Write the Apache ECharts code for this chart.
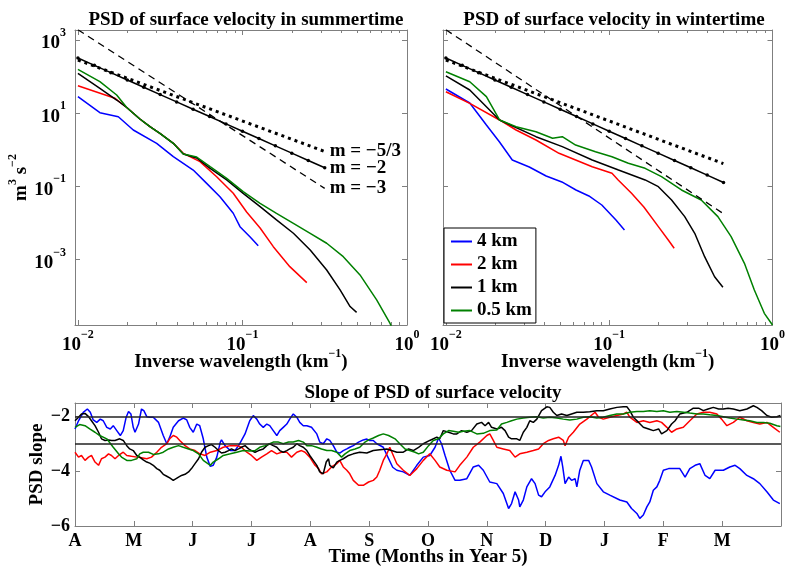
<!DOCTYPE html>
<html><head><meta charset="utf-8">
<script src="https://cdn.jsdelivr.net/npm/echarts@6/dist/echarts.min.js"></script>
<style>html,body{margin:0;padding:0;background:#fff}#c{width:788px;height:572px}</style>
</head><body><div id="c"></div>
<script>
// ---------- tick / range data ----------
const xMajor = [0.01, 0.1, 1];
const xMinor = [0.02,0.03,0.04,0.05,0.06,0.07,0.08,0.09,0.2,0.3,0.4,0.5,0.6,0.7,0.8,0.9];
const yMajor = [0.001, 0.1, 10, 1000];
const kRange = [0.0096, 1];
const pRange = [1.63e-5, 1875];
const months = ['A','M','J','J','A','S','O','N','D','J','F','M'];
const slopeTicks = [-6, -4, -2];
const slopeRange = [-6, -1.5];
const refLevels = [-2, -3];
const seriesNames = ['4 km', '2 km', '1 km', '0.5 km'];

// ---------- summer PSD [k (1/km), PSD] ----------
const sum4km = [[0.01,28.2],[0.0136,10.3],[0.0176,8.0],[0.0217,3.47],[0.0301,1.50],[0.038,0.647],[0.0502,0.28],[0.0606,0.121],[0.073,0.0523],[0.0879,0.0184],[0.0966,0.00793],[0.111,0.0042],[0.1247,0.0024]];
const sum2km = [[0.01,56.4],[0.0168,25.5],[0.0198,14.3],[0.0238,6.93],[0.0274,4.28],[0.0315,2.82],[0.038,1.5],[0.0437,0.8],[0.0552,0.473],[0.0697,0.184],[0.0879,0.0647],[0.106,0.02],[0.128,0.0073],[0.154,0.00225],[0.194,0.00064],[0.246,0.000234]];
const sum1km = [[0.01,123],[0.0136,47.9],[0.0172,22.9],[0.0198,14.3],[0.0238,6.93],[0.0274,4.28],[0.0315,2.82],[0.038,1.5],[0.0437,0.767],[0.0527,0.597],[0.0636,0.312],[0.0802,0.15],[0.101,0.0647],[0.128,0.0279],[0.161,0.0121],[0.204,0.00523],[0.258,0.00183],[0.325,0.00052],[0.392,0.000148],[0.451,5.2e-5],[0.494,3.6e-5]];
const sum05km = [[0.01,158],[0.0136,72.5],[0.0172,31.4],[0.0198,14.3],[0.0238,6.93],[0.0274,4.28],[0.0315,2.82],[0.038,1.5],[0.0437,0.767],[0.0527,0.635],[0.0636,0.345],[0.0802,0.166],[0.101,0.0716],[0.128,0.0345],[0.161,0.0184],[0.204,0.0098],[0.258,0.00523],[0.325,0.00279],[0.41,0.0012],[0.518,0.00038],[0.654,7.9e-5],[0.789,1.8e-5],[0.845,8.7e-6]];

// ---------- winter PSD ----------
const win4km = [[0.01,45.8],[0.014,19],[0.0177,4.75],[0.0213,1.63],[0.0255,0.526],[0.0324,0.339],[0.0411,0.192],[0.0513,0.132],[0.0626,0.0797],[0.0751,0.0547],[0.0901,0.031],[0.11,0.0121],[0.124,0.00644]];
const win2km = [[0.01,38.6],[0.014,18.6],[0.0213,6.52],[0.0269,3.47],[0.0356,1.85],[0.0493,0.802],[0.0623,0.526],[0.0787,0.345],[0.104,0.228],[0.1135,0.15],[0.137,0.0647],[0.163,0.0273],[0.2,0.00793],[0.23,0.00343],[0.25,0.00204]];
const win1km = [[0.01,104],[0.014,43],[0.0213,6.52],[0.0356,2.28],[0.0516,1.22],[0.0787,0.526],[0.114,0.281],[0.166,0.15],[0.2,0.0982],[0.241,0.0425],[0.29,0.0149],[0.334,0.00523],[0.384,0.0012],[0.442,0.00034],[0.497,0.000175]];
const win05km = [[0.01,136],[0.014,72.4],[0.0177,28.3],[0.0213,6.52],[0.0269,4.28],[0.0356,3.12],[0.045,2.06],[0.0516,2.28],[0.0623,1.35],[0.0824,0.887],[0.104,0.647],[0.131,0.428],[0.166,0.312],[0.209,0.184],[0.277,0.0797],[0.366,0.0425],[0.463,0.0149],[0.558,0.00423],[0.673,0.00079],[0.774,0.000148],[0.891,3.4e-5],[1.0,1.63e-5]];

// ---------- reference slopes ----------
const refM2Left = [[0.01,322],[0.01259,203],[0.01585,128],[0.01995,80.9],[0.02512,51.0],[0.03162,32.2],[0.03981,20.3],[0.05012,12.8],[0.0631,8.09],[0.07943,5.10],[0.1,3.22],[0.1259,2.03],[0.1585,1.28],[0.1995,0.809],[0.2512,0.510],[0.3162,0.322]];
const refM2Right = [[0.01,322],[0.01259,203],[0.01585,128],[0.01995,80.9],[0.02512,51.0],[0.03162,32.2],[0.03981,20.3],[0.05012,12.8],[0.0631,8.09],[0.07943,5.10],[0.1,3.22],[0.1259,2.03],[0.1585,1.28],[0.1995,0.809],[0.2512,0.510],[0.3162,0.322],[0.3981,0.203],[0.5012,0.128]];
const refM53Left = [[0.01,284],[0.316,0.9]];
const refM53Right = [[0.01,284],[0.5,0.42]];
const refM3Left = [[0.01,1900],[0.316,0.088]];
const refM3Right = [[0.01,1900],[0.5,0.018]];

// ---------- PSD slope time series [month, slope] ----------
const slope4km = [[0,-2.45],[0.06,-2.15],[0.14,-1.84],[0.21,-1.72],[0.26,-1.84],[0.31,-2.12],[0.37,-2.21],[0.43,-2.09],[0.48,-2.15],[0.54,-2.39],[0.6,-2.45],[0.65,-2.33],[0.71,-2.51],[0.77,-2.69],[0.82,-2.51],[0.87,-2.02],[0.91,-1.81],[0.95,-1.9],[0.99,-2.39],[1.02,-2.57],[1.08,-2.27],[1.13,-1.72],[1.17,-1.78],[1.22,-2.0],[1.27,-2.02],[1.33,-2.02],[1.42,-2.21],[1.5,-2.69],[1.56,-2.99],[1.61,-2.75],[1.67,-2.39],[1.76,-2.15],[1.84,-2.05],[1.9,-2.12],[1.95,-2.39],[2.01,-2.57],[2.07,-2.27],[2.12,-2.33],[2.18,-2.81],[2.24,-3.48],[2.3,-3.82],[2.35,-3.78],[2.41,-3.48],[2.47,-2.93],[2.49,-2.85],[2.55,-3.06],[2.64,-3.24],[2.72,-3.24],[2.8,-2.99],[2.89,-2.63],[2.97,-2.15],[3.03,-1.96],[3.09,-2.09],[3.14,-2.27],[3.2,-2.39],[3.26,-2.27],[3.31,-2.33],[3.37,-2.51],[3.43,-2.69],[3.48,-2.51],[3.54,-2.39],[3.6,-2.27],[3.65,-2.09],[3.71,-1.9],[3.77,-2.02],[3.82,-2.21],[3.88,-2.33],[3.94,-2.33],[4.02,-2.39],[4.11,-2.63],[4.16,-2.93],[4.22,-2.99],[4.28,-2.81],[4.33,-2.87],[4.39,-3.06],[4.45,-3.3],[4.5,-3.33],[4.56,-3.24],[4.62,-3.18],[4.67,-3.12],[4.73,-3.06],[4.82,-2.93],[4.9,-2.85],[4.96,-2.82],[5.01,-2.87],[5.07,-2.87],[5.13,-2.99],[5.24,-3.12],[5.3,-3.4],[5.4,-3.85],[5.47,-3.96],[5.58,-4.02],[5.69,-4.15],[5.81,-3.78],[5.92,-3.48],[6.03,-3.42],[6.12,-3.12],[6.18,-2.78],[6.23,-2.99],[6.29,-3.42],[6.37,-3.96],[6.46,-4.33],[6.54,-4.33],[6.66,-4.27],[6.77,-3.84],[6.86,-3.78],[6.94,-3.96],[7.05,-4.39],[7.17,-4.45],[7.28,-4.81],[7.37,-5.36],[7.42,-5.18],[7.48,-4.75],[7.54,-5.05],[7.56,-5.3],[7.62,-5.05],[7.68,-4.57],[7.76,-4.27],[7.82,-4.45],[7.88,-4.87],[7.93,-4.93],[7.99,-4.75],[8.07,-4.57],[8.16,-4.15],[8.22,-3.78],[8.26,-3.45],[8.29,-3.84],[8.33,-4.45],[8.39,-4.21],[8.44,-4.33],[8.5,-4.27],[8.53,-4.57],[8.56,-4.63],[8.58,-3.96],[8.64,-3.6],[8.73,-3.6],[8.78,-3.84],[8.87,-4.45],[8.98,-4.75],[9.09,-4.87],[9.26,-5.05],[9.38,-5.12],[9.46,-5.36],[9.55,-5.54],[9.6,-5.72],[9.66,-5.6],[9.72,-5.3],[9.77,-5.12],[9.83,-4.69],[9.89,-4.57],[9.94,-4.33],[10.0,-3.96],[10.09,-3.9],[10.17,-3.9],[10.28,-3.9],[10.37,-4.21],[10.45,-3.9],[10.54,-3.78],[10.62,-3.72],[10.71,-4.15],[10.79,-4.27],[10.88,-3.96],[11.02,-3.96],[11.13,-3.84],[11.22,-3.78],[11.3,-3.9],[11.42,-4.15],[11.53,-4.27],[11.64,-4.45],[11.76,-4.75],[11.87,-5.05],[11.98,-5.18]];
const slope2km = [[0,-3.3],[0.06,-3.48],[0.11,-3.42],[0.17,-3.6],[0.23,-3.48],[0.28,-3.42],[0.34,-3.66],[0.4,-3.78],[0.45,-3.54],[0.51,-3.48],[0.57,-3.36],[0.62,-3.42],[0.68,-3.54],[0.74,-3.42],[0.82,-3.3],[0.88,-3.42],[0.96,-3.45],[1.05,-3.48],[1.13,-3.5],[1.22,-3.54],[1.3,-3.48],[1.39,-3.3],[1.47,-3.12],[1.56,-2.99],[1.61,-2.81],[1.67,-2.69],[1.73,-2.75],[1.78,-2.87],[1.87,-3.06],[1.95,-3.18],[2.04,-3.24],[2.12,-3.36],[2.21,-3.42],[2.3,-3.3],[2.41,-3.24],[2.52,-3.12],[2.64,-3.06],[2.75,-3.06],[2.83,-3.12],[2.92,-3.3],[3.0,-3.42],[3.09,-3.6],[3.17,-3.48],[3.26,-3.36],[3.34,-3.24],[3.43,-3.36],[3.51,-3.3],[3.6,-3.3],[3.68,-3.48],[3.77,-3.3],[3.85,-3.24],[3.91,-3.3],[3.99,-3.48],[4.08,-3.78],[4.14,-3.9],[4.19,-4.09],[4.28,-4.02],[4.36,-3.84],[4.45,-3.72],[4.5,-3.6],[4.56,-3.84],[4.62,-3.96],[4.67,-4.09],[4.73,-4.33],[4.82,-4.51],[4.9,-4.51],[4.99,-4.39],[5.07,-4.33],[5.13,-4.21],[5.18,-3.96],[5.24,-3.6],[5.3,-3.36],[5.35,-3.12],[5.47,-3.72],[5.58,-3.96],[5.69,-4.15],[5.81,-3.9],[5.92,-3.6],[6.03,-3.36],[6.12,-3.6],[6.2,-3.84],[6.32,-3.96],[6.46,-4.02],[6.54,-3.78],[6.66,-3.48],[6.77,-3.12],[6.88,-2.93],[7.0,-2.69],[7.05,-2.63],[7.11,-2.87],[7.17,-3.12],[7.28,-3.18],[7.39,-3.24],[7.48,-3.48],[7.56,-3.36],[7.68,-3.3],[7.79,-3.24],[7.88,-3.18],[7.96,-2.99],[8.05,-2.87],[8.13,-2.81],[8.22,-2.75],[8.3,-2.87],[8.33,-3.06],[8.39,-2.75],[8.47,-2.57],[8.58,-2.27],[8.7,-2.09],[8.84,-1.84],[8.9,-2.02],[8.98,-2.09],[9.09,-2.02],[9.21,-1.96],[9.32,-1.9],[9.38,-1.84],[9.43,-2.02],[9.55,-2.21],[9.66,-2.15],[9.77,-2.21],[9.89,-2.15],[9.97,-2.21],[10.06,-2.39],[10.14,-2.57],[10.23,-2.45],[10.34,-2.39],[10.45,-2.15],[10.57,-1.9],[10.68,-1.84],[10.79,-1.84],[10.91,-1.9],[10.99,-2.09],[11.08,-2.33],[11.19,-2.21],[11.3,-2.02],[11.42,-2.15],[11.53,-2.21],[11.64,-2.27],[11.76,-2.21],[11.87,-2.39],[11.98,-2.57]];
const slope1km = [[0,-2.15],[0.06,-2.02],[0.11,-1.9],[0.17,-1.88],[0.23,-2.0],[0.28,-2.15],[0.34,-2.33],[0.4,-2.57],[0.45,-2.81],[0.51,-2.87],[0.57,-2.85],[0.62,-2.87],[0.68,-2.87],[0.76,-2.81],[0.82,-2.87],[0.88,-3.06],[0.93,-3.18],[0.99,-3.24],[1.05,-3.42],[1.1,-3.48],[1.16,-3.58],[1.22,-3.66],[1.27,-3.7],[1.33,-3.78],[1.39,-3.9],[1.44,-3.96],[1.5,-4.11],[1.56,-4.18],[1.61,-4.24],[1.67,-4.33],[1.7,-4.35],[1.76,-4.21],[1.81,-4.15],[1.87,-4.11],[1.93,-4.02],[1.98,-3.9],[2.04,-3.72],[2.1,-3.54],[2.15,-3.3],[2.21,-3.12],[2.27,-3.06],[2.32,-3.02],[2.38,-3.12],[2.44,-3.24],[2.49,-3.33],[2.55,-3.3],[2.61,-3.24],[2.66,-3.18],[2.72,-3.24],[2.78,-3.18],[2.83,-3.12],[2.89,-3.06],[2.95,-3.18],[3.0,-3.24],[3.06,-3.3],[3.12,-3.24],[3.2,-3.18],[3.26,-3.06],[3.31,-2.99],[3.37,-3.06],[3.43,-3.12],[3.48,-3.24],[3.54,-3.3],[3.6,-3.24],[3.65,-3.18],[3.71,-3.12],[3.77,-2.99],[3.82,-3.06],[3.88,-3.12],[3.94,-3.24],[3.99,-3.42],[4.05,-3.6],[4.11,-3.78],[4.16,-4.02],[4.22,-4.09],[4.27,-3.66],[4.31,-3.54],[4.33,-3.78],[4.39,-3.87],[4.45,-3.66],[4.5,-3.6],[4.56,-3.54],[4.65,-3.42],[4.73,-3.36],[4.84,-3.3],[4.96,-3.33],[5.07,-3.24],[5.18,-3.21],[5.3,-3.18],[5.38,-3.24],[5.47,-3.3],[5.58,-3.3],[5.67,-3.18],[5.75,-3.24],[5.84,-3.12],[5.92,-2.99],[6.03,-2.87],[6.15,-2.75],[6.2,-2.81],[6.26,-2.51],[6.35,-2.57],[6.43,-2.63],[6.49,-2.63],[6.57,-2.51],[6.66,-2.57],[6.74,-2.51],[6.83,-2.27],[6.91,-2.21],[6.97,-2.33],[7.03,-2.21],[7.08,-2.39],[7.17,-2.45],[7.25,-2.39],[7.31,-2.51],[7.37,-2.75],[7.42,-2.81],[7.51,-2.81],[7.56,-2.87],[7.62,-2.57],[7.68,-2.39],[7.73,-2.15],[7.79,-2.21],[7.85,-2.09],[7.93,-1.78],[8.02,-1.64],[8.07,-1.66],[8.13,-1.84],[8.19,-1.96],[8.27,-1.9],[8.36,-1.96],[8.44,-1.9],[8.53,-1.84],[8.64,-1.84],[8.75,-1.82],[8.87,-1.78],[8.98,-1.78],[9.09,-1.72],[9.21,-1.66],[9.32,-1.64],[9.38,-1.64],[9.43,-1.78],[9.49,-2.02],[9.58,-2.21],[9.66,-2.39],[9.75,-2.45],[9.83,-2.51],[9.92,-2.45],[9.97,-2.63],[10.06,-2.51],[10.14,-2.27],[10.2,-2.15],[10.28,-1.9],[10.4,-1.84],[10.51,-1.69],[10.6,-1.69],[10.68,-1.78],[10.76,-1.72],[10.85,-1.66],[10.94,-1.72],[11.02,-1.72],[11.1,-1.69],[11.19,-1.72],[11.3,-1.78],[11.42,-1.72],[11.53,-1.6],[11.59,-1.66],[11.67,-1.78],[11.76,-1.96],[11.84,-2.02],[11.93,-2.0],[11.99,-1.96]];
const slope05km = [[0,-2.39],[0.08,-2.29],[0.17,-2.33],[0.25,-2.45],[0.34,-2.57],[0.42,-2.69],[0.54,-2.81],[0.65,-3.12],[0.74,-3.36],[0.79,-3.48],[0.88,-3.6],[0.96,-3.6],[1.05,-3.54],[1.1,-3.36],[1.16,-3.3],[1.25,-3.3],[1.33,-3.38],[1.42,-3.36],[1.5,-3.3],[1.59,-3.18],[1.67,-3.12],[1.76,-3.06],[1.84,-3.12],[1.93,-3.18],[2.01,-3.24],[2.1,-3.36],[2.18,-3.6],[2.3,-3.78],[2.35,-3.66],[2.44,-3.54],[2.52,-3.42],[2.64,-3.36],[2.75,-3.3],[2.86,-3.24],[2.97,-3.26],[3.06,-3.24],[3.14,-3.12],[3.23,-3.06],[3.31,-2.99],[3.37,-2.93],[3.46,-2.93],[3.54,-2.99],[3.63,-2.93],[3.71,-2.93],[3.8,-2.87],[3.88,-2.93],[3.94,-3.06],[4.02,-3.06],[4.11,-3.12],[4.19,-3.18],[4.28,-3.24],[4.36,-3.24],[4.45,-3.3],[4.53,-3.48],[4.59,-3.36],[4.67,-3.24],[4.76,-3.18],[4.84,-3.12],[4.93,-2.93],[4.99,-2.85],[5.07,-2.78],[5.16,-2.69],[5.24,-2.63],[5.33,-2.69],[5.44,-2.81],[5.52,-2.99],[5.61,-3.18],[5.69,-3.24],[5.78,-3.3],[5.84,-3.36],[5.92,-3.3],[6.01,-3.06],[6.09,-2.87],[6.18,-2.81],[6.26,-2.63],[6.35,-2.51],[6.43,-2.53],[6.52,-2.57],[6.6,-2.53],[6.71,-2.51],[6.83,-2.63],[6.94,-2.61],[7.05,-2.51],[7.17,-2.49],[7.25,-2.27],[7.34,-2.21],[7.42,-2.15],[7.51,-2.09],[7.62,-2.05],[7.73,-2.02],[7.85,-2.0],[7.96,-2.05],[8.07,-2.02],[8.19,-2.05],[8.3,-2.09],[8.41,-2.12],[8.53,-2.09],[8.64,-2.02],[8.75,-2.0],[8.87,-2.05],[8.98,-2.02],[9.09,-1.96],[9.21,-1.9],[9.32,-1.9],[9.43,-1.84],[9.55,-1.81],[9.66,-1.81],[9.77,-1.78],[9.89,-1.81],[10.0,-1.78],[10.11,-1.84],[10.23,-1.81],[10.34,-1.84],[10.45,-1.87],[10.57,-1.9],[10.68,-1.9],[10.79,-1.93],[10.91,-1.96],[11.02,-2.0],[11.13,-2.05],[11.25,-2.09],[11.36,-2.12],[11.47,-2.15],[11.59,-2.21],[11.7,-2.21],[11.81,-2.24],[11.93,-2.33],[11.99,-2.36]];

// ---------- styling ----------
const F = 'Liberation Serif';
const GRAY = '#7f7f7f';
const COLORS = ['#0000ff', '#ff0000', '#000000', '#008000'];
function richSup(mainLH) {
  return {
    b: {fontFamily: F, fontWeight: 'bold', fontSize: 19, color: '#000', lineHeight: mainLH, verticalAlign: 'bottom'},
    s: {fontFamily: F, fontWeight: 'bold', fontSize: 12, color: '#000', lineHeight: 10, verticalAlign: 'top'}
  };
}
const richTick = richSup(26);
const richName = richSup(24);
function supLabel(v) {
  const e = Math.round(Math.log10(v));
  return '{b|10}{s|' + (e < 0 ? '\u2212' + (-e) : e) + '}';
}
const axisLineStyle = {color: GRAY, width: 1};
const plainText = {fontFamily: F, fontWeight: 'bold', fontSize: 19, color: '#000'};

function logX(gi, pos, major, showLabel, name) {
  return {
    type: 'log', logBase: 10, gridIndex: gi, position: pos, min: kRange[0], max: kRange[1],
    axisLine: {show: major, onZero: false, lineStyle: axisLineStyle},
    axisTick: {show: true, inside: true, length: major ? 5 : 3, customValues: major ? xMajor : xMinor, lineStyle: axisLineStyle},
    axisLabel: {show: showLabel, customValues: xMajor, formatter: supLabel, margin: 4, rich: richTick},
    splitLine: {show: false}, minorTick: {show: false},
    name: name || '', nameLocation: 'middle', nameGap: 23, nameMoveOverlap: false,
    nameTextStyle: {rich: richName}
  };
}
function logY(gi, pos, showLabel, name) {
  return {
    type: 'log', logBase: 10, gridIndex: gi, position: pos, min: pRange[0], max: pRange[1],
    axisLine: {show: true, onZero: false, lineStyle: axisLineStyle},
    axisTick: {show: true, inside: true, length: 5, customValues: yMajor, lineStyle: axisLineStyle},
    axisLabel: {show: showLabel, customValues: yMajor, formatter: supLabel, margin: 9, rich: richTick},
    splitLine: {show: false}, minorTick: {show: false},
    name: name || '', nameLocation: 'middle', nameGap: 44, nameRotate: 90, nameMoveOverlap: false,
    nameTextStyle: {rich: richName}
  };
}
function timeX(pos, showLabel) {
  return {
    type: 'value', gridIndex: 2, position: pos, min: 0, max: months.length, interval: 1,
    axisLine: {show: true, onZero: false, lineStyle: axisLineStyle},
    axisTick: {show: true, inside: true, length: 5, lineStyle: axisLineStyle},
    axisLabel: {show: showLabel, margin: 6, formatter: v => months[v] || '',
      fontFamily: F, fontWeight: 'bold', fontSize: 18, color: '#000'},
    splitLine: {show: false},
    name: showLabel ? 'Time (Months in Year 5)' : '', nameLocation: 'middle', nameGap: 22, nameMoveOverlap: false,
    nameTextStyle: plainText
  };
}
function slopeY(pos, showLabel) {
  return {
    type: 'value', gridIndex: 2, position: pos, min: slopeRange[0], max: slopeRange[1],
    axisLine: {show: true, onZero: false, lineStyle: axisLineStyle},
    axisTick: {show: true, inside: true, length: 5, customValues: slopeTicks, lineStyle: axisLineStyle},
    axisLabel: {show: showLabel, customValues: slopeTicks, margin: 5,
      formatter: v => (v < 0 ? '\u2212' + (-v) : '' + v),
      fontFamily: F, fontWeight: 'bold', fontSize: 18, color: '#000'},
    splitLine: {show: false},
    name: showLabel ? 'PSD slope' : '', nameLocation: 'middle', nameGap: 28, nameRotate: 90, nameMoveOverlap: false,
    nameTextStyle: plainText
  };
}

const xNameRich = '{b|Inverse wavelength (km}{s|\u22121}{b|)}';
const yNameRich = '{b|m}{s|3}{b| s}{s|\u22122}';

const xAxis = [
  logX(0, 'bottom', true, true, xNameRich), logX(0, 'top', true, false), logX(0, 'bottom', false, false), logX(0, 'top', false, false),
  logX(1, 'bottom', true, true, xNameRich), logX(1, 'top', true, false), logX(1, 'bottom', false, false), logX(1, 'top', false, false),
  timeX('bottom', true), timeX('top', false)
];
const yAxis = [
  logY(0, 'left', true, yNameRich), logY(0, 'right', false),
  logY(1, 'left', false), logY(1, 'right', false),
  slopeY('left', true), slopeY('right', false)
];

function line(name, data, xi, yi, color, extra) {
  return Object.assign({
    type: 'line', name, data, xAxisIndex: xi, yAxisIndex: yi,
    symbol: 'none', showSymbol: false, clip: true, silent: true,
    lineStyle: {color, width: 1.5}, itemStyle: {color}, z: 3
  }, extra || {});
}
const endLbl = (txt) => Object.assign({show: true, formatter: txt, distance: 5}, plainText);

const summer = [sum4km, sum2km, sum1km, sum05km];
const winter = [win4km, win2km, win1km, win05km];
const slopes = [slope4km, slope2km, slope1km, slope05km];

const series = [];
seriesNames.forEach((n, i) => series.push(line(n, summer[i], 0, 0, COLORS[i])));
seriesNames.forEach((n, i) => series.push(line(n, winter[i], 4, 2, COLORS[i])));
seriesNames.forEach((n, i) => series.push(line(n, slopes[i], 8, 4, COLORS[i])));

// reference slope lines
series.push(line('m=-2 L', refM2Left, 0, 0, '#000', {symbol: 'circle', symbolSize: 3.5, showSymbol: true, z: 4, endLabel: endLbl('m = \u22122')}));
series.push(line('m=-5/3 L', refM53Left, 0, 0, '#000', {z: 4, lineStyle: {color: '#000', width: 3, type: [3, 4]}, endLabel: endLbl('m = \u22125/3')}));
series.push(line('m=-3 L', refM3Left, 0, 0, '#000', {z: 4, lineStyle: {color: '#000', width: 1.3, type: [7, 5]}, endLabel: endLbl('m = \u22123')}));
series.push(line('m=-2 R', refM2Right, 4, 2, '#000', {symbol: 'circle', symbolSize: 3.5, showSymbol: true, z: 4}));
series.push(line('m=-5/3 R', refM53Right, 4, 2, '#000', {z: 4, lineStyle: {color: '#000', width: 3, type: [3, 4]}}));
series.push(line('m=-3 R', refM3Right, 4, 2, '#000', {z: 4, lineStyle: {color: '#000', width: 1.3, type: [7, 5]}}));
// horizontal reference levels in slope panel
series.push({
  type: 'line', name: 'levels', data: [], xAxisIndex: 8, yAxisIndex: 4, silent: true,
  markLine: {silent: true, symbol: 'none', label: {show: false}, animation: false,
    lineStyle: {color: '#222', width: 1.5, type: 'solid'},
    data: refLevels.map(v => ({yAxis: v}))}
});

const option = {
  animation: false,
  backgroundColor: '#fff',
  title: [
    {text: 'PSD of surface velocity in summertime', left: 241, top: 6, textAlign: 'center', textStyle: plainText},
    {text: 'PSD of surface velocity in wintertime', left: 609, top: 6, textAlign: 'center', textStyle: plainText},
    {text: 'Slope of PSD of surface velocity', left: 428, top: 379, textAlign: 'center', textStyle: plainText}
  ],
  grid: [
    {left: 75, top: 30, width: 332, height: 295},
    {left: 443, top: 30, width: 332, height: 295},
    {left: 75, top: 403, width: 706, height: 123}
  ],
  legend: {
    data: seriesNames, orient: 'vertical', left: 444, top: 228, selectedMode: false,
    icon: 'rect', itemWidth: 21, itemHeight: 2, itemGap: 4,
    padding: [4, 4, 3, 7], borderColor: '#000', borderWidth: 1, backgroundColor: '#fff',
    textStyle: plainText
  },
  xAxis, yAxis, series
};
const chart = echarts.init(document.getElementById('c'), null, {renderer: 'canvas'});
chart.setOption(option);
</script></body></html>
